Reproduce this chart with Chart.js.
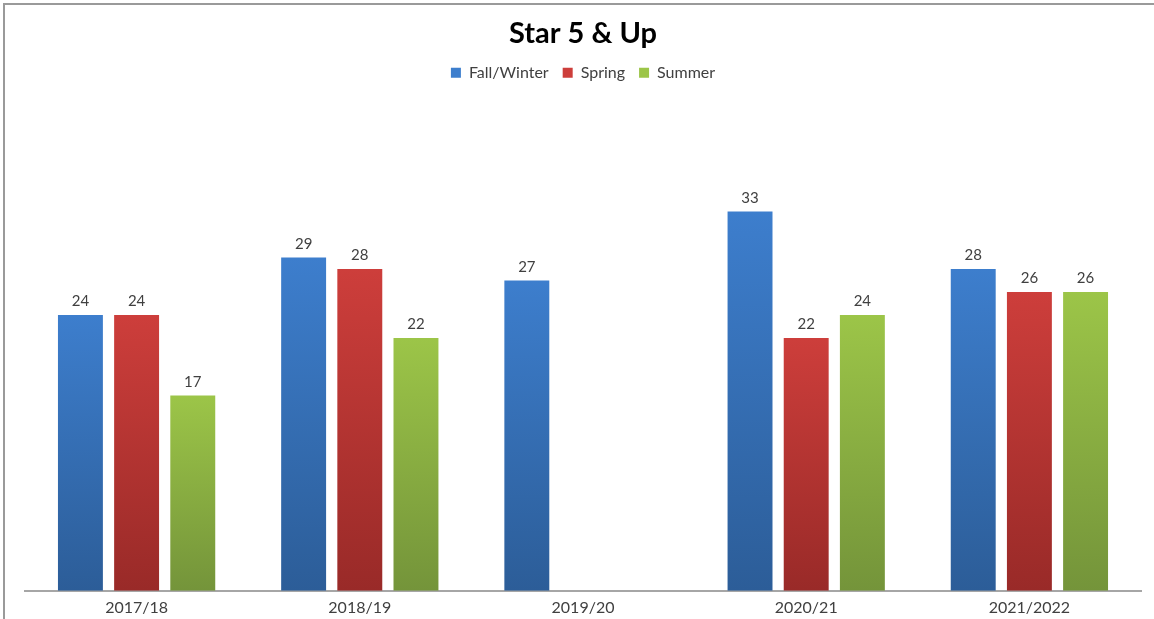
<!DOCTYPE html>
<html>
<head>
<meta charset="utf-8">
<script src="https://cdn.jsdelivr.net/npm/chart.js@4/dist/chart.umd.min.js"></script>
<style>
    body { margin: 0; background: #fff; }
    #wrap { position: relative; width: 1154px; height: 619px; }
    #frame {
        position: absolute; left: 3px; top: 3px; right: 0; bottom: 0;
        border-top: 2px solid #9a9a9a; border-left: 2px solid #9a9a9a;
    }
    canvas { position: absolute; left: 0; top: 0; }
</style>
</head>
<body>
<div id="wrap">
    <div id="frame"></div>
    <canvas id="starChart" width="1154" height="619"></canvas>
</div>
<script>
const seasons = ['2017/18', '2018/19', '2019/20', '2020/21', '2021/2022'];
const fallWinter = [24, 29, 27, 33, 28];
const spring = [24, 28, null, 22, 26];
const summer = [17, 22, null, 24, 26];

// top / bottom colours of each bar gradient
const blueShade = ['#3d7ecd', '#2c5d98'];
const redShade = ['#cd3e3b', '#992a28'];
const greenShade = ['#9cc548', '#74943a'];

function barGradient(shade) {
    return function (context) {
        const chart = context.chart;
        if (!chart.chartArea || context.type !== 'data') return shade[0];
        const value = context.raw;
        if (value === null || value === undefined) return shade[0];
        const y = chart.scales.y;
        const top = y.getPixelForValue(value);
        const bottom = y.getPixelForValue(0);
        if (bottom - top < 1) return shade[0];
        const g = chart.ctx.createLinearGradient(0, top, 0, bottom);
        g.addColorStop(0, shade[0]);
        g.addColorStop(1, shade[1]);
        return g;
    };
}

// Value labels above each bar
const valueLabels = {
    id: 'valueLabels',
    afterDatasetsDraw(chart) {
        const ctx = chart.ctx;
        ctx.save();
        ctx.font = '15px Lato';
        ctx.fillStyle = '#404040';
        ctx.textAlign = 'center';
        ctx.textBaseline = 'bottom';
        chart.data.datasets.forEach((ds, i) => {
            chart.getDatasetMeta(i).data.forEach((bar, j) => {
                const v = ds.data[j];
                if (v === null) return;
                ctx.fillText(v, bar.x, bar.y - 6);
            });
        });
        ctx.restore();
    }
};

const ctx = document.getElementById('starChart').getContext('2d');
new Chart(ctx, {
    type: 'bar',
    data: {
        labels: seasons,
        datasets: [
            { label: 'Fall/Winter', data: fallWinter, backgroundColor: barGradient(blueShade), solid: blueShade[0] },
            { label: 'Spring', data: spring, backgroundColor: barGradient(redShade), solid: redShade[0] },
            { label: 'Summer', data: summer, backgroundColor: barGradient(greenShade), solid: greenShade[0] }
        ]
    },
    options: {
        responsive: false,
        animation: false,
        datasets: {
            bar: {
                categoryPercentage: 0.755,
                barPercentage: 0.8
            }
        },
        layout: {
            padding: { left: 25, right: 13, top: 0, bottom: -5 }
        },
        plugins: {
            title: {
                display: true,
                text: 'Star 5 & Up',
                color: '#000',
                font: { family: 'Lato', size: 29, weight: 'bold' },
                padding: { top: 16, bottom: 0 }
            },
            legend: {
                position: 'top',
                labels: {
                    boxWidth: 10,
                    boxHeight: 10,
                    color: '#404040',
                    font: { family: 'Lato', size: 16 },
                    padding: 14,
                    generateLabels(chart) {
                        return chart.data.datasets.map((ds, i) => ({
                            text: ds.label,
                            fillStyle: ds.solid,
                            strokeStyle: ds.solid,
                            lineWidth: 0,
                            fontColor: '#404040',
                            datasetIndex: i
                        }));
                    }
                }
            },
            tooltip: { enabled: false }
        },
        scales: {
            x: {
                grid: { display: false, drawTicks: false },
                border: { color: '#a6a6a6', width: 2 },
                ticks: {
                    color: '#404040',
                    font: { family: 'Lato', size: 16 },
                    padding: 7
                }
            },
            y: {
                display: false,
                min: 0,
                max: 43.5
            }
        }
    },
    plugins: [valueLabels]
});
</script>
</body>
</html>
